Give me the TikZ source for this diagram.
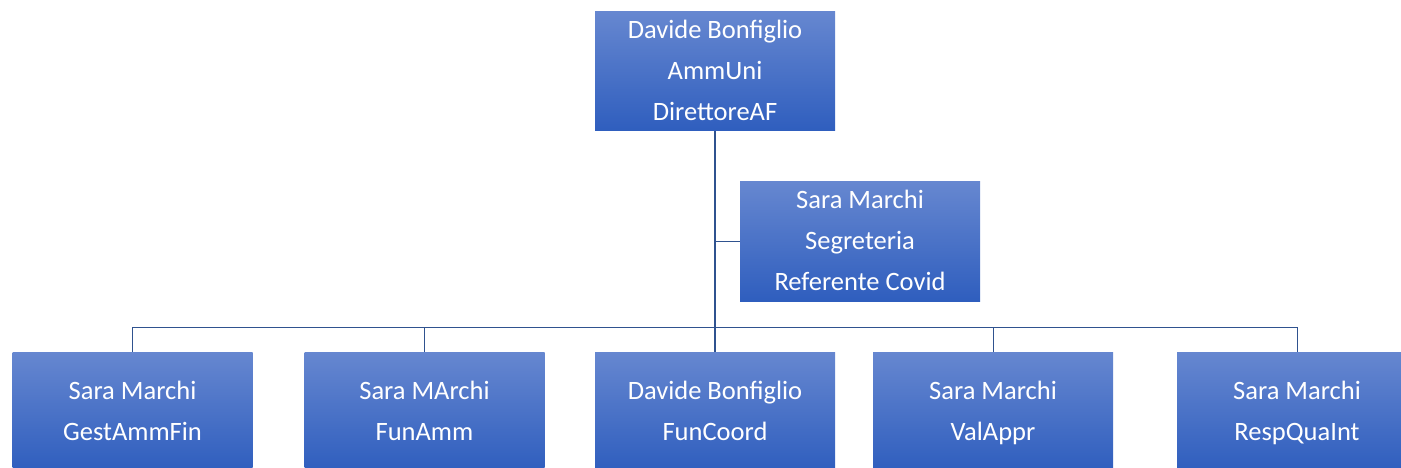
\documentclass[tikz,border=0pt]{standalone}
\usepackage{fontspec}
\setmainfont{Carlito}
\usepackage{xcolor}
\usetikzlibrary{positioning,calc}

\definecolor{boxtop}{RGB}{102,135,208}
\definecolor{boxbot}{RGB}{47,94,190}
\definecolor{linecol}{RGB}{47,82,143}
\newcommand{\ls}{\rule[-5.5pt]{0pt}{27pt}}

\begin{document}
\begin{tikzpicture}[
					x=1pt, y=-1pt,
					person/.style={rectangle, top color=boxtop, bottom color=boxbot, draw=none,
						minimum width=240pt, minimum height=119pt, inner sep=0pt,
						text=white, align=center, font=\fontsize{26.5}{41}\selectfont},
					link/.style={linecol, line width=0.8pt},
					trunk/.style={linecol, line width=1.6pt}
					]
					\useasboundingbox (0,0) rectangle (1401,468);
					\clip (0,0) rectangle (1401,468);
					
					% ===== TOP =====
					\node[person] (boss) at (715,71.5) {\ls Davide Bonfiglio\\\ls AmmUni\\\ls DirettoreAF};
					
					% ===== ASSISTANT =====
					\node[person] (assist) at (860,241.5) {\ls Sara Marchi\\\ls Segreteria\\\ls Referente Covid};
					
					% ===== LEVEL 1 =====
					\node[person] (gest)  at (132.5,411.5) {\ls Sara Marchi\\\ls GestAmmFin};
					\node[person] (fun)   at (424.5,411.5) {\ls Sara MArchi\\\ls FunAmm};
					\node[person] (coord) at (715,411.5)   {\ls Davide Bonfiglio\\\ls FunCoord};
					\node[person] (val)   at (993,411.5)   {\ls Sara Marchi\\\ls ValAppr};
					\node[person] (resp)  at (1297,411.5)  {\ls Sara Marchi\\\ls RespQuaInt};
					
					% ===== CONNECTORS =====
					\coordinate (bus) at (715,327);
					\foreach \n in {gest,fun,val,resp}
						\draw[link] (\n.north) |- (bus);
					\draw[link] (assist.west) -- (assist.west -| boss.south);
					\draw[trunk] (boss.south) -- (coord.north);
				\end{tikzpicture}
\end{document}
